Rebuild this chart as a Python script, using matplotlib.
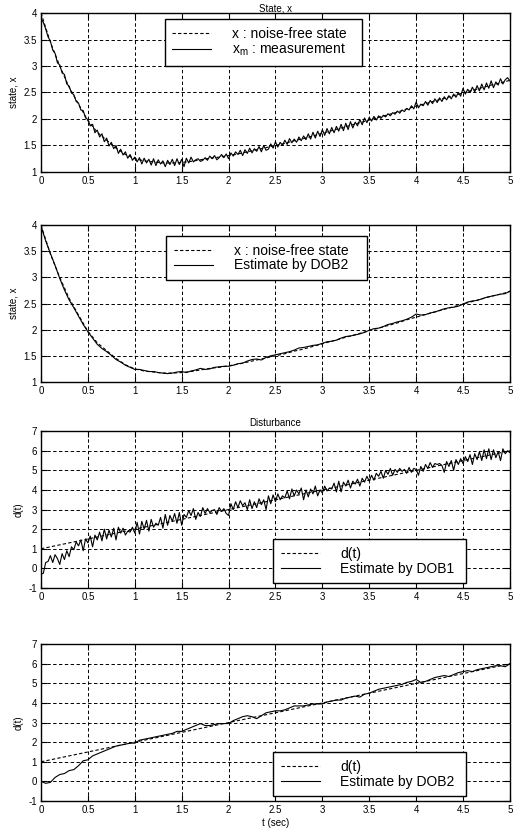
import numpy as np
import matplotlib

matplotlib.use('Agg')
import matplotlib.pyplot as plt

plt.rcParams['font.family'] = ['Liberation Sans', 'DejaVu Sans']
plt.rcParams['mathtext.default'] = 'regular'

# noise-free state, sampled every 0.1 s
x_true = [4.0, 3.45, 3.0, 2.6, 2.28, 1.97, 1.75, 1.6, 1.45, 1.33,
          1.25, 1.21, 1.19, 1.17, 1.17, 1.18, 1.2, 1.23, 1.26, 1.28,
          1.31, 1.34, 1.38, 1.42, 1.46, 1.5, 1.54, 1.59, 1.63, 1.68,
          1.73, 1.78, 1.83, 1.88, 1.93, 1.98, 2.03, 2.08, 2.13, 2.19,
          2.24, 2.29, 2.34, 2.39, 2.44, 2.49, 2.54, 2.59, 2.64, 2.68, 2.73]

# measurement x_m, every 0.025 s
x_meas = [3.9, 3.82, 3.70, 3.55, 3.47, 3.30, 3.24, 3.06, 3.02, 2.87, 2.84, 2.66, 2.62, 2.49, 2.46, 2.33, 2.30, 2.17, 2.16, 2.02,
          1.99, 1.87, 1.90, 1.74, 1.79, 1.66, 1.72, 1.57, 1.64, 1.49, 1.56, 1.44, 1.50, 1.35, 1.43, 1.32, 1.38, 1.26, 1.33, 1.22,
          1.28, 1.19, 1.27, 1.15, 1.26, 1.17, 1.24, 1.13, 1.25, 1.12, 1.23, 1.15, 1.21, 1.10, 1.22, 1.14, 1.24, 1.12, 1.25, 1.14,
          1.24, 1.10, 1.26, 1.17, 1.28, 1.19, 1.23, 1.25, 1.20, 1.22, 1.27, 1.22, 1.30, 1.25, 1.31, 1.23, 1.27, 1.33, 1.27, 1.34,
          1.25, 1.36, 1.30, 1.38, 1.33, 1.41, 1.31, 1.42, 1.35, 1.45, 1.36, 1.44, 1.39, 1.48, 1.38, 1.50, 1.41, 1.43, 1.53, 1.45,
          1.57, 1.47, 1.56, 1.50, 1.60, 1.52, 1.63, 1.55, 1.62, 1.56, 1.66, 1.59, 1.68, 1.61, 1.72, 1.62, 1.75, 1.64, 1.77, 1.67,
          1.80, 1.69, 1.82, 1.72, 1.84, 1.74, 1.86, 1.77, 1.90, 1.78, 1.92, 1.80, 1.95, 1.83, 1.94, 1.87, 1.99, 1.89, 2.02, 1.93,
          2.03, 1.96, 2.05, 1.98, 2.06, 2.01, 2.07, 2.04, 2.10, 2.06, 2.12, 2.09, 2.15, 2.11, 2.17, 2.14, 2.20, 2.17, 2.25, 2.19,
          2.32, 2.21, 2.28, 2.25, 2.33, 2.26, 2.35, 2.29, 2.38, 2.31, 2.40, 2.33, 2.42, 2.36, 2.44, 2.38, 2.47, 2.41, 2.50, 2.43,
          2.58, 2.47, 2.56, 2.50, 2.60, 2.51, 2.63, 2.53, 2.66, 2.55, 2.68, 2.58, 2.72, 2.59, 2.70, 2.64, 2.76, 2.66, 2.74, 2.78, 2.72]

# state estimate by DOB2, every 0.05 s
x_dob2 = [3.98, 3.70, 3.46, 3.23, 2.98, 2.76, 2.57, 2.42, 2.26, 2.10, 1.96, 1.84, 1.72, 1.64, 1.58, 1.51, 1.43, 1.38, 1.32, 1.28,
          1.24, 1.24, 1.22, 1.20, 1.20, 1.18, 1.17, 1.16, 1.17, 1.19, 1.20, 1.18, 1.21, 1.23, 1.26, 1.24, 1.25, 1.28, 1.29, 1.30,
          1.30, 1.32, 1.35, 1.36, 1.40, 1.43, 1.44, 1.42, 1.47, 1.50, 1.52, 1.54, 1.56, 1.58, 1.61, 1.65, 1.66, 1.68, 1.70, 1.71,
          1.74, 1.77, 1.78, 1.80, 1.84, 1.87, 1.88, 1.90, 1.92, 1.95, 1.99, 2.02, 2.03, 2.06, 2.10, 2.12, 2.15, 2.17, 2.20, 2.24,
          2.30, 2.28, 2.29, 2.32, 2.34, 2.37, 2.40, 2.42, 2.43, 2.45, 2.49, 2.53, 2.55, 2.56, 2.59, 2.62, 2.64, 2.66, 2.68, 2.69, 2.74]

# disturbance d(t): straight line, end points
d_time = [0, 5]
d_true = [1, 6]

# disturbance estimate by DOB1, every 0.025 s
d_dob1 = [-0.3, -0.25, 0.3, 0.35, 0.65, 0.3, 0.7, 0.5, 0.2, 0.75, 0.45, 0.9, 0.6, 1.1, 0.95, 1.35, 1.15, 1.45, 0.9, 1.5,
          1.3, 1.65, 1.1, 1.7, 1.45, 1.85, 1.4, 2.0, 1.5, 1.95, 1.6, 2.05, 1.45, 2.1, 1.8, 2.05, 1.7, 1.9, 1.85, 2.1,
          1.8, 2.35, 1.75, 2.4, 2.0, 2.45, 1.9, 2.5, 2.1, 2.3, 2.2, 2.6, 2.05, 2.75, 2.2, 2.7, 2.4, 2.8, 2.3, 2.85,
          2.2, 2.75, 2.6, 2.95, 2.7, 3.05, 2.5, 2.85, 2.65, 3.1, 2.8, 3.05, 2.85, 2.95, 3.0, 2.75, 3.1, 2.9, 3.05, 2.8,
          2.7, 3.3, 3.0, 3.4, 3.1, 3.45, 3.2, 3.35, 3.0, 3.5, 3.05, 3.4, 3.1, 3.55, 3.25, 3.5, 3.0, 3.7, 3.3, 3.75,
          3.4, 3.8, 3.5, 3.7, 3.6, 3.95, 3.55, 4.05, 3.7, 4.0, 3.8, 4.1, 3.5, 4.0, 3.65, 4.05, 3.8, 4.2, 3.7, 4.0,
          3.85, 4.2, 3.95, 4.1, 4.05, 4.35, 3.9, 4.45, 3.9, 4.4, 4.2, 4.5, 4.1, 4.45, 4.3, 4.55, 4.2, 4.6, 4.4, 4.7,
          4.45, 4.75, 4.5, 4.85, 4.7, 4.95, 4.6, 5.0, 4.8, 5.1, 4.75, 5.05, 4.9, 5.1, 4.95, 5.05, 4.85, 5.15, 4.9, 5.1,
          5.05, 4.75, 5.2, 4.95, 5.3, 5.1, 5.4, 5.15, 5.35, 5.3, 5.35, 5.25, 4.9, 5.45, 5.2, 5.5, 5.0, 5.55, 5.3, 5.6,
          5.35, 5.7, 5.45, 5.8, 5.3, 5.85, 5.55, 5.95, 5.5, 6.05, 5.6, 6.1, 5.55, 6.05, 5.65, 5.95, 5.5, 6.1, 5.85, 6.0, 5.9]

# disturbance estimate by DOB2, every 0.05 s
d_dob2 = [0.0, -0.1, -0.05, 0.2, 0.35, 0.4, 0.55, 0.6, 0.8, 1.05, 1.1, 1.3, 1.4, 1.5, 1.6, 1.7, 1.8, 1.85, 1.9, 1.95,
          1.95, 2.1, 2.15, 2.2, 2.25, 2.3, 2.35, 2.4, 2.45, 2.55, 2.55, 2.65, 2.75, 2.85, 2.95, 2.85, 2.85, 2.9, 2.95, 2.95,
          2.95, 3.1, 3.2, 3.3, 3.35, 3.3, 3.2, 3.35, 3.5, 3.55, 3.6, 3.6, 3.65, 3.75, 3.85, 3.85, 3.85, 3.9, 3.95, 3.95,
          3.95, 4.05, 4.1, 4.15, 4.15, 4.25, 4.3, 4.35, 4.3, 4.45, 4.5, 4.6, 4.7, 4.75, 4.8, 4.85, 4.9, 4.95, 5.05, 5.1,
          5.2, 5.05, 5.1, 5.2, 5.3, 5.35, 5.4, 5.35, 5.45, 5.55, 5.6, 5.65, 5.6, 5.7, 5.75, 5.8, 5.85, 5.9, 5.9, 5.85, 6.0]

x_ticks = [0, 0.5, 1, 1.5, 2, 2.5, 3, 3.5, 4, 4.5, 5]
x_ticklabels = ['0', '0.5', '1', '1.5', '2', '2.5', '3', '3.5', '4', '4.5', '5']
state_ticks = [1, 1.5, 2, 2.5, 3, 3.5, 4]
state_ticklabels = ['1', '1.5', '2', '2.5', '3', '3.5', '4']
dist_ticks = [-1, 0, 1, 2, 3, 4, 5, 6, 7]


def sample_times(values):
    """time axis for a series sampled evenly over 0..5 s"""
    return np.linspace(0, 5, len(values))


def style_axes(ax, yticks, yticklabels, ylim):
    ax.set_xlim(0, 5)
    ax.set_ylim(*ylim)
    ax.set_xticks(x_ticks)
    ax.set_xticklabels(x_ticklabels)
    ax.set_yticks(yticks)
    ax.set_yticklabels(yticklabels)
    ax.tick_params(direction='in', length=4, width=0.8, labelsize=7, pad=3,
                   top=True, right=True)
    ax.grid(True, color='black', linestyle=(0, (3.5, 2.5)), linewidth=0.7)
    for sp in ax.spines.values():
        sp.set_linewidth(1.0)


def add_legend(ax, loc, anchor):
    leg = ax.legend(loc=loc, bbox_to_anchor=anchor, fontsize=10, frameon=True,
                    fancybox=False, edgecolor='black', framealpha=1,
                    handlelength=2.8, handletextpad=1.5, borderpad=0.55,
                    labelspacing=0.05, borderaxespad=0)
    leg.get_frame().set_linewidth(1.0)
    return leg


fig = plt.figure(figsize=(5.21, 8.34), dpi=100)
left, width, height = 0.0787, 0.900, 0.188
ax1 = fig.add_axes([left, 0.7938, width, 0.1906])
ax2 = fig.add_axes([left, 0.5420, width, height])
ax3 = fig.add_axes([left, 0.2950, width, height])
ax4 = fig.add_axes([left, 0.0396, width, height])

dash = (0, (3, 2))

# State, x : measurement
ax1.plot(sample_times(x_true), x_true, color='black', lw=0.8, linestyle=dash,
         label='x : noise-free state  ')
ax1.plot(sample_times(x_meas), x_meas, color='black', lw=0.8,
         label='x$_{m}$ : measurement')
style_axes(ax1, state_ticks, state_ticklabels, (1, 4))
ax1.set_title('State, x', fontsize=7, pad=1)
ax1.set_ylabel('state, x', fontsize=7, labelpad=3)
add_legend(ax1, 'upper left', (0.264, 0.96))

# State, x : DOB2 estimate
ax2.plot(sample_times(x_true), x_true, color='black', lw=0.8, linestyle=dash,
         label='x : noise-free state   ')
ax2.plot(sample_times(x_dob2), x_dob2, color='black', lw=0.8,
         label='Estimate by DOB2')
style_axes(ax2, state_ticks, state_ticklabels, (1, 4))
ax2.set_ylabel('state, x', fontsize=7, labelpad=3)
add_legend(ax2, 'upper left', (0.267, 0.93))

# Disturbance : DOB1
ax3.plot(d_time, d_true, color='black', lw=0.8, linestyle=dash, label='d(t)')
ax3.plot(sample_times(d_dob1), d_dob1, color='black', lw=0.8,
         label='Estimate by DOB1 ')
style_axes(ax3, dist_ticks, [str(v) for v in dist_ticks], (-1, 7))
ax3.set_title('Disturbance', fontsize=7, pad=4)
ax3.set_ylabel('d(t)', fontsize=7, labelpad=3)
add_legend(ax3, 'lower left', (0.495, 0.03))

# Disturbance : DOB2
ax4.plot(d_time, d_true, color='black', lw=0.8, linestyle=dash, label='d(t)')
ax4.plot(sample_times(d_dob2), d_dob2, color='black', lw=0.8,
         label='Estimate by DOB2 ')
style_axes(ax4, dist_ticks, [str(v) for v in dist_ticks], (-1, 7))
ax4.set_ylabel('d(t)', fontsize=7, labelpad=3)
ax4.set_xlabel('t (sec)', fontsize=7, labelpad=2)
add_legend(ax4, 'lower left', (0.495, 0.03))

fig.savefig('out.png', dpi=100)
